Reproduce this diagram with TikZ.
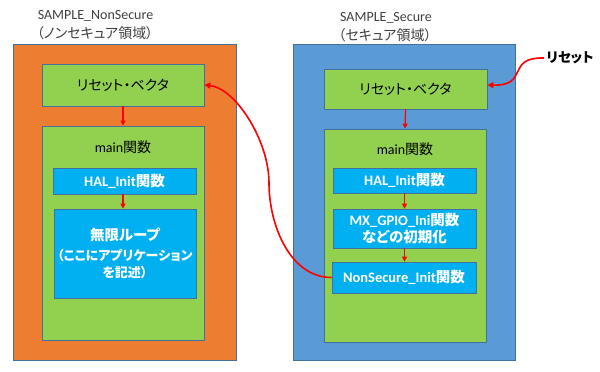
\documentclass[tikz,border=0pt]{standalone}
\usepackage{fontspec}
\setmainfont{Noto Sans CJK JP}[RawFeature=+palt]
\newfontfamily\lat{Carlito}
\usetikzlibrary{arrows.meta,calc}
\definecolor{orng}{HTML}{ED7D31}
\definecolor{blu}{HTML}{5B9BD5}
\definecolor{grn}{HTML}{92D050}
\definecolor{lblu}{HTML}{00B0F0}
\definecolor{bord}{HTML}{41719C}
\definecolor{lbltxt}{HTML}{404040}
\newcommand\smallfnt{\fontsize{13}{13}\selectfont}
\begin{document}
\begin{tikzpicture}[x=1pt,y=-1pt,
  box/.style={draw=bord,line width=0.7pt,inner sep=0pt,rectangle},
  outerbox/.style={box},
  greenbox/.style={box,fill=grn,font=\fontsize{14}{16}\selectfont},
  bluebox/.style={box,fill=lblu,text=white,font=\fontsize{14.5}{17}\selectfont\bfseries,align=center},
  arr/.style={red,line width=1.2pt,-{Triangle[length=5pt,width=5pt]}},
  bigarr/.style={red,line width=1.6pt,-{Triangle[length=6pt,width=6pt]}},
  toplbl/.style={text=lbltxt,font=\fontsize{14}{16}\selectfont,inner sep=0pt},
  mainlbl/.style={font=\fontsize{14}{16}\selectfont,inner sep=0pt}
]
\useasboundingbox[fill=white] (0,0) rectangle (600,372);

% ---------- left: NonSecure ----------
\node[toplbl] (lt1) at (95.5,16) {\lat SAMPLE\_NonSecure};
\node[toplbl] (lt2) at (95,33) {（ノンセキュア領域）};
\node[outerbox,fill=orng,minimum width=223pt,minimum height=316pt] (lout) at (124.5,202) {};
\node[greenbox,minimum width=162pt,minimum height=42pt] (lreset) at (123,85) {リセット・ベクタ};
\node[greenbox,minimum width=162pt,minimum height=214pt] (lmain) at (123,233) {};
\node[mainlbl] (lmainlbl) at (123,147) {{\lat main}関数};
\node[bluebox,minimum width=143pt,minimum height=26pt] (lhal) at (124.5,181) {{\lat HAL\_Init}関数};
\node[bluebox,minimum width=142pt,minimum height=89pt] (lloop) at (125,253.5)
  {無限ループ\\[3pt]\smallfnt （ここにアプリケーション\\\smallfnt を記述）};

% ---------- right: Secure ----------
\node[toplbl] (rt1) at (386,18) {\lat SAMPLE\_Secure};
\node[toplbl] (rt2) at (385,35) {（セキュア領域）};
\node[outerbox,fill=blu,minimum width=222pt,minimum height=316pt] (rout) at (404,202) {};
\node[greenbox,minimum width=163pt,minimum height=40pt] (rreset) at (405.5,89) {リセット・ベクタ};
\node[greenbox,minimum width=162pt,minimum height=213pt] (rmain) at (405,235.5) {};
\node[mainlbl] (rmainlbl) at (405,149) {{\lat main}関数};
\node[bluebox,minimum width=143pt,minimum height=25pt] (rhal) at (404.5,180.5) {{\lat HAL\_Init}関数};
\node[bluebox,minimum width=143pt,minimum height=39pt] (rmx) at (404.5,228.5) {{\lat MX\_GPIO\_Ini}関数\\などの初期化};
\node[bluebox,minimum width=144pt,minimum height=31pt] (rns) at (404,277.5) {{\lat NonSecure\_Init}関数};

\node[font=\fontsize{13.5}{16}\selectfont\bfseries,inner sep=0pt] (rst) at (570,58) {リセット};

% ---------- connectors ----------
\draw[arr] (lreset.south) -- (lmain.north);
\draw[arr] (lhal.south -| lreset.south) -- (lloop.north -| lreset.south);
\draw[arr] (rreset.south) -- (rmain.north);
\draw[arr] (rhal.south) -- (rmx.north);
\draw[arr] (rmx.south) -- (rns.north -| rmx.south);

\coordinate (mid) at (269,183);
\draw[bigarr] (rns.west) .. controls (290,277.5) and (269,225) .. (mid)
   .. controls (269,140) and (235,88) .. (lreset.east);
\draw[bigarr] ([xshift=-2pt]rst.west) .. controls (505,57) and (530,86) .. ($(rreset.east)+(0,-4)$);
\end{tikzpicture}
\end{document}
